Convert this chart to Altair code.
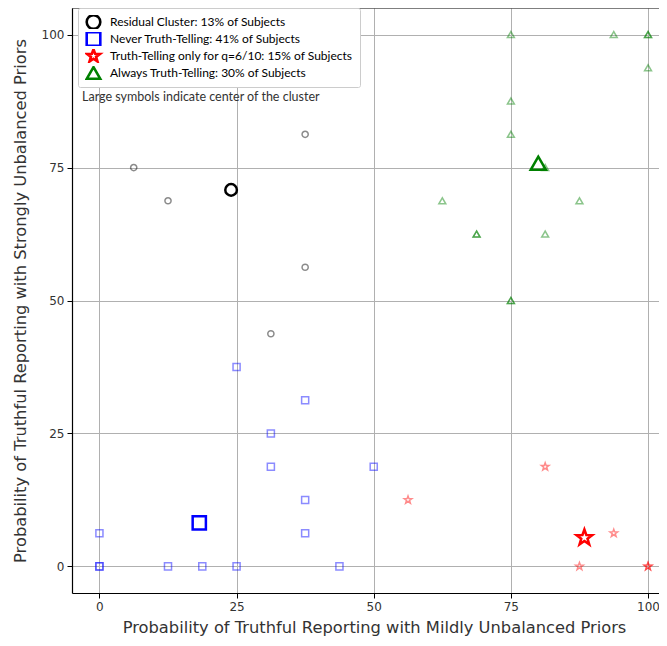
import altair as alt
import pandas as pd

clusters = [
    "Residual Cluster: 13% of Subjects",
    "Never Truth-Telling: 41% of Subjects",
    "Truth-Telling only for q=6/10: 15% of Subjects",
    "Always Truth-Telling: 30% of Subjects",
]

# small symbols (individual subjects)
residual_x = [6.25, 12.5, 37.5, 37.5, 31.25]
residual_y = [75, 68.75, 81.25, 56.25, 43.75]

never_x = [0, 0, 0, 12.5, 18.75, 25, 43.75, 25, 37.5, 31.25, 31.25, 50, 37.5, 37.5]
never_y = [6.25, 0, 0, 0, 0, 0, 0, 37.5, 31.25, 25, 18.75, 18.75, 12.5, 6.25]

star_x = [56.25, 81.25, 93.75, 87.5, 100, 100]
star_y = [12.5, 18.75, 6.25, 0, 0, 0]

always_x = [75, 93.75, 100, 100, 100, 75, 75, 62.5, 87.5, 68.75, 68.75, 81.25, 75, 75, 81.25]
always_y = [100, 100, 100, 100, 93.75, 87.5, 81.25, 68.75, 68.75, 62.5, 62.5, 62.5, 50, 50, 75]

# cluster centers (large symbols)
center_x = [24.0, 18.2, 88.4, 80.0]
center_y = [70.8, 8.2, 5.4, 75.8]

colors = ["black", "blue", "red", "green"]
star_path = ("M0,-1 L0.235,-0.324 L0.951,-0.309 L0.380,0.124 L0.588,0.809 L0,0.4 "
             "L-0.588,0.809 L-0.380,0.124 L-0.951,-0.309 L-0.235,-0.324 Z")
shapes = ["circle", "square", star_path, "triangle-up"]
small_sizes = [38, 50, 64, 48]
big_sizes = [135, 175, 270, 230]

rows = []
for i, (xs, ys) in enumerate([(residual_x, residual_y), (never_x, never_y),
                              (star_x, star_y), (always_x, always_y)]):
    for x, y in zip(xs, ys):
        rows.append({"cluster": clusters[i], "x": x, "y": y, "size": small_sizes[i]})
small = pd.DataFrame(rows)
centers = pd.DataFrame({"cluster": clusters, "x": center_x, "y": center_y, "size": big_sizes})

W, H = 587, 585
xscale = alt.Scale(domain=[-5, 102], nice=False, zero=False)
yscale = alt.Scale(domain=[-5, 105], nice=False, zero=False)
color_scale = alt.Scale(domain=clusters, range=colors)
shape_scale = alt.Scale(domain=clusters, range=shapes)
ticks = [0, 25, 50, 75, 100]

xaxis = alt.Axis(values=ticks, title="Probability of Truthful Reporting with Mildly Unbalanced Priors",
                 titleX=302, titlePadding=7)
yaxis = alt.Axis(values=ticks, title="Probability of Truthful Reporting with Strongly Unbalanced Priors",
                 titlePadding=13)

legend = alt.Legend(
    title=None, orient="none", legendX=6, legendY=0,
    labelFont="Lato", labelFontSize=12, labelColor="black", labelLimit=400,
    symbolSize=185, symbolStrokeWidth=2.6, clipHeight=14,
    labelOffset=8, rowPadding=3, padding=7,
    strokeColor="#cccccc", fillColor="white", cornerRadius=2,
)

small_layer = alt.Chart(small).mark_point(filled=False, strokeWidth=1.5, opacity=0.45).encode(
    x=alt.X("x:Q", scale=xscale, axis=xaxis),
    y=alt.Y("y:Q", scale=yscale, axis=yaxis),
    color=alt.Color("cluster:N", scale=color_scale, legend=legend, sort=clusters),
    shape=alt.Shape("cluster:N", scale=shape_scale, legend=legend, sort=clusters),
    size=alt.Size("size:Q", scale=None, legend=None),
)

center_layer = alt.Chart(centers).mark_point(filled=False, strokeWidth=2.5, opacity=1).encode(
    x=alt.X("x:Q", scale=xscale),
    y=alt.Y("y:Q", scale=yscale),
    color=alt.Color("cluster:N", scale=color_scale, legend=legend, sort=clusters),
    shape=alt.Shape("cluster:N", scale=shape_scale, legend=legend, sort=clusters),
    size=alt.Size("size:Q", scale=None, legend=None),
)

top_border = alt.Chart(pd.DataFrame({"a": [0]})).mark_rule(color="black", strokeWidth=1.2).encode(
    x=alt.value(0), x2=alt.value(W), y=alt.value(0)
)

note = alt.Chart(pd.DataFrame({"t": ["Large symbols indicate center of the cluster"]})).mark_text(
    align="left", baseline="middle", font="Lato", fontSize=12.5, color="#333333"
).encode(x=alt.value(10), y=alt.value(89), text="t:N")

chart = alt.layer(small_layer, center_layer, top_border, note).properties(
    width=W, height=H,
    autosize=alt.AutoSizeParams(type="none"),
    padding={"left": 64, "top": 0, "right": 0, "bottom": 45},
).resolve_legend(color="shared", shape="shared").configure_view(stroke=None).configure_axis(
    grid=True, gridColor="#b0b0b0", gridWidth=1,
    domainColor="black", domainWidth=1.2,
    tickColor="black", tickSize=5, tickWidth=1,
    labelFont="DejaVu Sans", labelFontSize=12, labelColor="#333333", labelPadding=3,
    titleFont="DejaVu Sans", titleFontSize=16.3, titleFontWeight="normal", titleColor="#333333",
    labelFlush=False,
).configure_legend(symbolOpacity=1)

chart.save("out.html", embed_options={"renderer": "svg", "actions": False})
